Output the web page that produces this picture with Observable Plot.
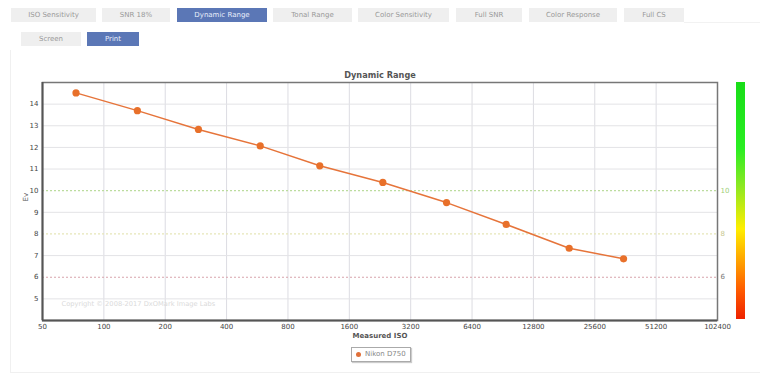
<!DOCTYPE html>
<html>
<head>
<meta charset="utf-8">
<script src="https://cdn.jsdelivr.net/npm/d3@7"></script>
<script src="https://cdn.jsdelivr.net/npm/@observablehq/plot@0.6"></script>
<style>
  html, body { margin: 0; padding: 0; background: #fff; }
  #wrap { position: relative; width: 760px; height: 375px; overflow: hidden; font-family: "DejaVu Sans", Verdana, sans-serif; }
  #wrap svg { position: absolute; left: 0; top: 0; }
  .tab { position: absolute; height: 14px; line-height: 14px; background: #efefef; color: #999; font-size: 7px; text-align: center; }
  .tab.sel { background: #5b77b6; color: #e8eefb; }
  #panel { position: absolute; left: 10px; top: 50px; width: 760px; height: 322px; border-left: 1px solid #f0f0f0; border-bottom: 1px solid #f0f0f0; }
  #tabline { position: absolute; left: 684px; top: 22px; width: 76px; height: 0; border-top: 1px solid #f2f2f2; }
  #cbar { position: absolute; left: 736px; top: 82px; width: 9px; height: 237px;
    background: linear-gradient(to bottom, #18dd18 0%, #2aee22 28%, #8de822 44%, #ffee00 62%, #ff9a00 77%, #ff5a00 88%, #ee2200 100%); }
  #legend { position: absolute; left: 351px; top: 347px; width: 58px; height: 13px; border: 1px solid #aaa; box-shadow: 1px 1px 1px #ccc; font-size: 7px; color: #888; line-height: 13px; }
  #legend .dot { position: absolute; left: 4px; top: 4px; width: 5px; height: 5px; border-radius: 50%; background: #e0703a; }
  #legend .lbl { position: absolute; left: 13px; top: 0; }
</style>
</head>
<body>
<div id="wrap"></div>
<script>
// ---- data ----
const tabs = ["ISO Sensitivity", "SNR 18%", "Dynamic Range", "Tonal Range", "Color Sensitivity", "Full SNR", "Color Response", "Full CS"];
const subTabs = ["Screen", "Print"];
const isoMeasured = [73, 146, 291, 585, 1146, 2336, 4797, 9414, 19177, 35433];
const dynamicRange = [14.52, 13.70, 12.83, 12.07, 11.15, 10.38, 9.45, 8.44, 7.34, 6.85];
const xTicks = [50, 100, 200, 400, 800, 1600, 3200, 6400, 12800, 25600, 51200, 102400];
const yTicks = [5, 6, 7, 8, 9, 10, 11, 12, 13, 14];
const refLevels = [10, 8, 6];
const refColors = ["#bcdc9e", "#e6e6b8", "#d8a4ac"];
const refLabelColors = ["#9fcf7a", "#c8c890", "#777777"];
const seriesName = "Nikon D750";

const wrap = document.getElementById("wrap");

// tabs
const tabX = [[11, 96], [102, 170], [177, 267], [273, 352], [358, 449], [456, 522], [529, 617], [624, 684]];
const panel = document.createElement("div"); panel.id = "panel"; wrap.appendChild(panel);
const tl = document.createElement("div"); tl.id = "tabline"; wrap.appendChild(tl);
tabs.forEach((t, i) => {
  const d = document.createElement("div");
  d.className = "tab" + (t === "Dynamic Range" ? " sel" : "");
  d.style.left = tabX[i][0] + "px"; d.style.top = "8px"; d.style.width = (tabX[i][1] - tabX[i][0]) + "px";
  d.textContent = t; wrap.appendChild(d);
});
const subX = [[21, 81], [87, 139]];
subTabs.forEach((t, i) => {
  const d = document.createElement("div");
  d.className = "tab" + (t === "Print" ? " sel" : "");
  d.style.left = subX[i][0] + "px"; d.style.top = "32px"; d.style.width = (subX[i][1] - subX[i][0]) + "px";
  d.textContent = t; wrap.appendChild(d);
});

const data = isoMeasured.map((x, i) => ({x, y: dynamicRange[i]}));
const refs = refLevels.map((y, i) => ({y, stroke: refColors[i], label: String(y), lc: refLabelColors[i]}));
const grid = yTicks.filter(v => !refLevels.includes(v));

const chart = Plot.plot({
  width: 760,
  height: 375,
  marginTop: 82,
  marginLeft: 42,
  marginRight: 43,
  marginBottom: 55,
  style: {fontFamily: "DejaVu Sans, Verdana, sans-serif", fontSize: "7px", color: "#555", background: "transparent"},
  x: {type: "log", base: 2, domain: [50, 102400]},
  y: {domain: [4, 15]},
  marks: [
    Plot.ruleX(xTicks.slice(1, -1), {stroke: "#dcdce2", strokeWidth: 1}),
    Plot.ruleY(grid, {stroke: "#e3e3e6", strokeWidth: 1}),
    Plot.ruleY(refs, {y: "y", stroke: "stroke", strokeWidth: 1.2, strokeDasharray: "2,2"}),
    Plot.text(refs, {x: () => 102400, y: "y", text: "label", fill: "lc", dx: 3, textAnchor: "start", fontSize: 7}),
    Plot.frame({stroke: "#777", strokeWidth: 1.5}),
    Plot.ruleX([50], {stroke: "#555", strokeWidth: 2}),
    Plot.ruleY([4], {stroke: "#555", strokeWidth: 2}),
    Plot.text(["Copyright © 2008-2017 DxOMark Image Labs"], {frameAnchor: "bottom-left", dx: 19, dy: -15, textAnchor: "start", fill: "#dadada", fontSize: 6.7}),
    Plot.line(data, {x: "x", y: "y", stroke: "#e6743a", strokeWidth: 1.5}),
    Plot.dot(data, {x: "x", y: "y", r: 3.6, fill: "#e8702a", stroke: "none"}),
    Plot.axisX(xTicks, {tickSize: 0, tickPadding: 4, tickFormat: d => String(d), label: null, fill: "#444"}),
    Plot.axisY(yTicks, {tickSize: 0, tickPadding: 4, tickFormat: d => String(d), label: null, fill: "#444"}),
    Plot.text(["Measured ISO"], {frameAnchor: "bottom", dy: 17, fontWeight: "bold", fill: "#555", fontSize: 7}),
    Plot.text(["Ev"], {frameAnchor: "left", dx: -17, rotate: -90, fill: "#555", fontSize: 7}),
    Plot.text(["Dynamic Range"], {frameAnchor: "top", dy: -10, fontWeight: "bold", fill: "#555", fontSize: 8.2})
  ]
});
wrap.appendChild(chart);

const cbar = document.createElement("div"); cbar.id = "cbar"; wrap.appendChild(cbar);
const lg = document.createElement("div"); lg.id = "legend";
lg.innerHTML = '<span class="dot"></span><span class="lbl"></span>';
lg.querySelector(".lbl").textContent = seriesName;
wrap.appendChild(lg);
</script>
</body>
</html>
